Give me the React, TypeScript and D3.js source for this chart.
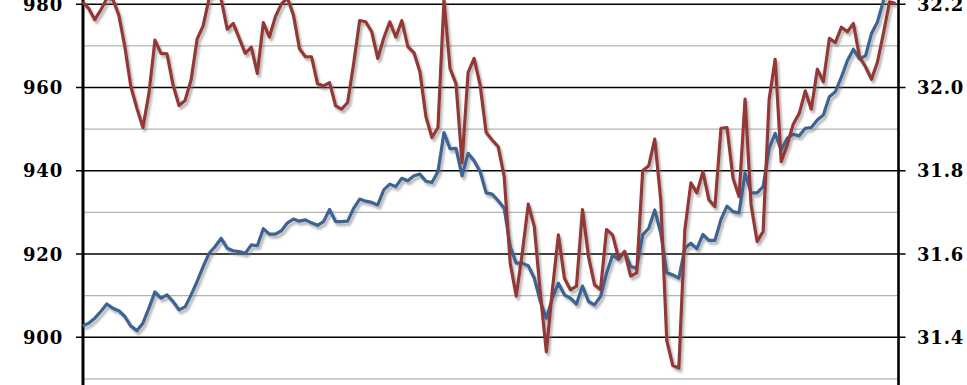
import React from "react";
import * as d3 from "d3";

// Total weekly hours worked (millions) – left axis (blue)
const totalHours: number[] = [
  902.7, 903.4, 904.6, 906.2, 908.0, 907.0, 906.4, 905.0, 902.7, 901.6,
  903.4, 907.0, 910.9, 909.4, 910.2, 908.6, 906.6, 907.3, 910.2, 913.4,
  917.0, 920.2, 921.8, 923.8, 921.4, 920.8, 920.6, 920.2, 922.2, 922.0,
  926.1, 924.8, 924.8, 925.6, 927.5, 928.4, 927.9, 928.2, 927.5, 926.9,
  927.8, 930.7, 927.8, 927.8, 927.9, 931.0, 933.2, 932.7, 932.4, 931.8,
  935.4, 936.8, 936.2, 938.2, 937.6, 938.8, 939.2, 937.5, 937.2, 939.8,
  949.2, 945.3, 945.4, 938.8, 944.2, 942.4, 939.8, 934.7, 934.4, 932.8,
  931.0, 921.8, 917.8, 917.8, 917.2, 914.2, 908.6, 904.6, 909.4, 913.0,
  910.2, 909.4, 908.0, 912.3, 908.6, 907.8, 909.8, 915.4, 919.8, 918.7,
  920.6, 917.0, 916.6, 924.6, 926.2, 930.6, 925.0, 915.5, 915.0, 914.2,
  921.4, 922.6, 921.3, 924.7, 923.3, 923.3, 928.3, 931.5, 930.2, 929.9,
  939.4, 934.7, 934.7, 936.2, 945.4, 949.0, 945.0, 947.8, 948.8, 948.4,
  950.2, 950.4, 952.2, 953.4, 957.8, 959.0, 962.5, 966.5, 969.2, 966.9,
  967.6, 973.0, 975.8, 981.0, 985.0, 988.0,
];

// Average weekly hours – right axis (red)
const averageHours: number[] = [
  32.206, 32.19, 32.163, 32.186, 32.214, 32.212, 32.174, 32.098, 32.002, 31.95,
  31.904, 31.986, 32.114, 32.082, 32.081, 32.006, 31.957, 31.969, 32.018, 32.116,
  32.148, 32.215, 32.23, 32.212, 32.14, 32.154, 32.118, 32.082, 32.097, 32.034,
  32.156, 32.121, 32.17, 32.201, 32.215, 32.174, 32.093, 32.074, 32.074, 32.009,
  32.004, 32.012, 31.956, 31.948, 31.964, 32.058, 32.161, 32.158, 32.134, 32.07,
  32.119, 32.158, 32.121, 32.161, 32.098, 32.084, 32.038, 31.93, 31.88, 31.904,
  32.21, 32.046, 32.009, 31.819, 32.036, 32.07, 32.006, 31.892, 31.874, 31.858,
  31.786, 31.578, 31.499, 31.602, 31.72, 31.666, 31.506, 31.365, 31.514, 31.646,
  31.542, 31.514, 31.523, 31.707, 31.594, 31.526, 31.515, 31.659, 31.646, 31.59,
  31.606, 31.547, 31.555, 31.8, 31.812, 31.876, 31.73, 31.392, 31.332, 31.326,
  31.658, 31.771, 31.747, 31.798, 31.73, 31.714, 31.902, 31.904, 31.782, 31.738,
  31.972, 31.718, 31.63, 31.654, 31.972, 32.068, 31.822, 31.862, 31.912, 31.938,
  31.992, 31.948, 32.044, 32.014, 32.118, 32.108, 32.145, 32.134, 32.154, 32.074,
  32.05, 32.02, 32.062, 32.132, 32.206, 32.202,
];

const leftTicks: number[] = [900, 920, 940, 960, 980];
const leftMinor: number[] = [890, 910, 930, 950, 970];
const rightTicks: number[] = [31.4, 31.6, 31.8, 32.0, 32.2];

const W = 967;
const H = 385;
const plotLeft = 83;
const plotRight = 898.5;

export default function App() {
  const n = totalHours.length;
  const x = d3.scaleLinear().domain([0, n - 1]).range([82.7, 895.6]);
  const yL = d3.scaleLinear().domain([900, 980]).range([337.3, 4.3]);
  const yR = d3.scaleLinear().domain([31.4, 32.2]).range([337.3, 4.3]);

  const lineL = d3
    .line<number>()
    .x((_, i) => x(i))
    .y((d) => yL(d));
  const lineR = d3
    .line<number>()
    .x((_, i) => x(i))
    .y((d) => yR(d));

  const font = "'DejaVu Serif', serif";

  return (
    <svg
      width={W}
      height={H}
      style={{ position: "absolute", left: 0, top: 0, background: "#fff" }}
    >
      <defs>
        <filter id="shadow" x="-5%" y="-5%" width="110%" height="115%">
          <feGaussianBlur in="SourceAlpha" stdDeviation="1.3" result="b" />
          <feOffset in="b" dx="2" dy="3" result="o" />
          <feFlood floodColor="#7a7a7a" floodOpacity="0.55" />
          <feComposite in2="o" operator="in" result="s" />
          <feMerge>
            <feMergeNode in="s" />
            <feMergeNode in="SourceGraphic" />
          </feMerge>
        </filter>
      </defs>
      <rect x={0} y={0} width={W} height={H} fill="#fff" />
      {leftMinor.map((v) => (
        <line
          key={"m" + v}
          x1={plotLeft}
          x2={plotRight}
          y1={yL(v)}
          y2={yL(v)}
          stroke="#b3b3b3"
          strokeWidth={1.2}
        />
      ))}
      {leftTicks.map((v) => (
        <line
          key={"g" + v}
          x1={plotLeft - 7}
          x2={plotRight + 7}
          y1={yL(v)}
          y2={yL(v)}
          stroke="#000"
          strokeWidth={1.6}
        />
      ))}
      <line x1={plotLeft} x2={plotLeft} y1={0} y2={H} stroke="#000" strokeWidth={3} />
      <line x1={plotRight} x2={plotRight} y1={0} y2={H} stroke="#000" strokeWidth={2.6} />

      <g filter="url(#shadow)">
        <path
          d={lineL(totalHours) || ""}
          fill="none"
          stroke="#3b6494"
          strokeWidth={3.2}
          strokeLinejoin="round"
        />
        <path
          d={lineR(averageHours) || ""}
          fill="none"
          stroke="#953735"
          strokeWidth={3.2}
          strokeLinejoin="round"
        />
      </g>

      {leftTicks.map((v) => (
        <text
          key={"lt" + v}
          x={63}
          y={yL(v)}
          dy="0.36em"
          textAnchor="end"
          fontFamily={font}
          fontWeight="bold"
          fontSize={18}
          letterSpacing={0.8}
          fill="#000"
        >
          {v}
        </text>
      ))}
      {rightTicks.map((v) => (
        <text
          key={"rt" + v}
          x={917}
          y={yR(v)}
          dy="0.36em"
          textAnchor="start"
          fontFamily={font}
          fontWeight="bold"
          fontSize={18}
          letterSpacing={0.8}
          fill="#000"
        >
          {v.toFixed(1)}
        </text>
      ))}
    </svg>
  );
}
